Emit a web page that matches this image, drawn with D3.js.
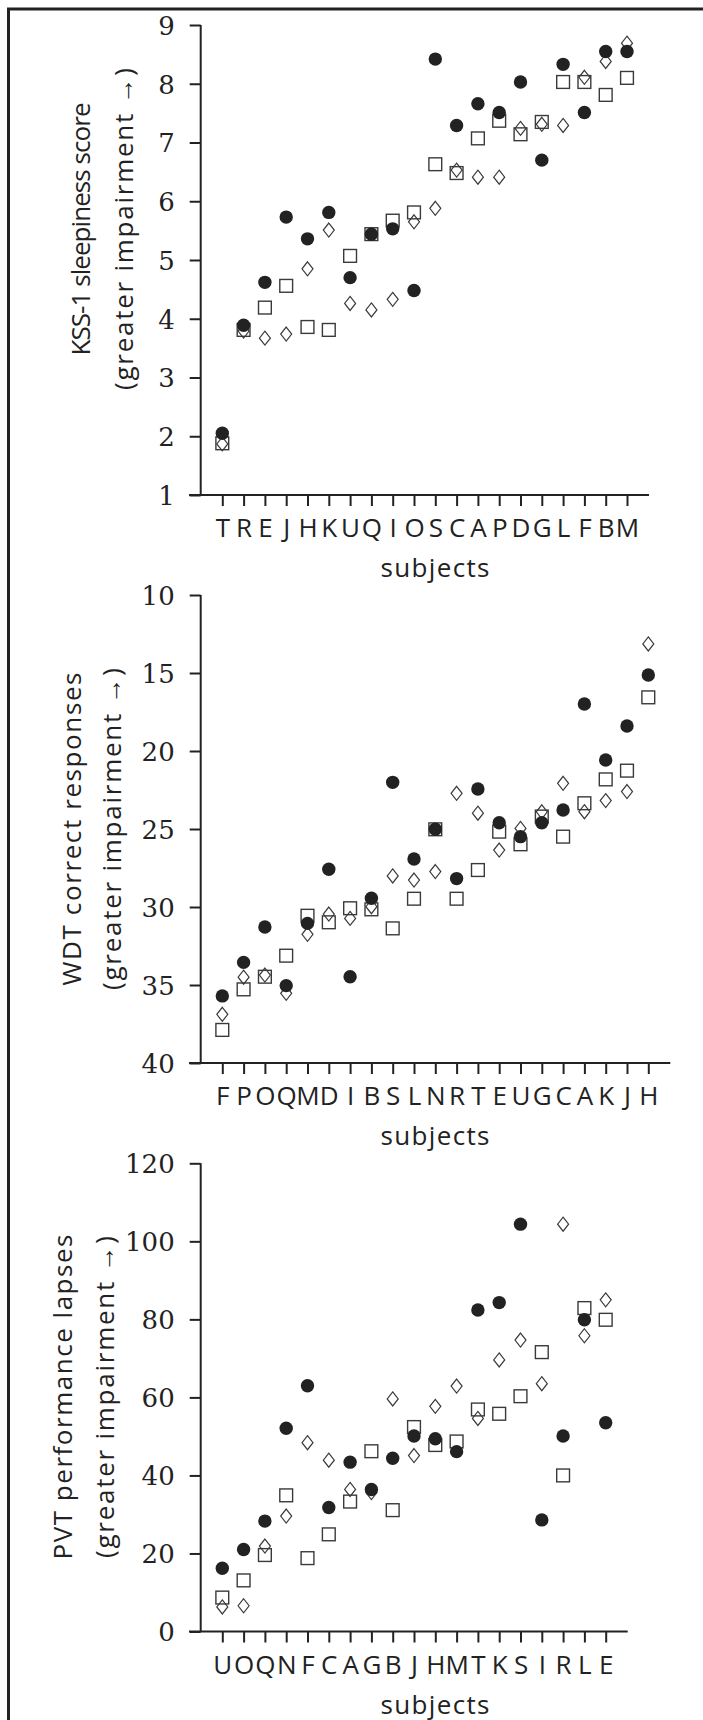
<!DOCTYPE html>
<html>
<head>
<meta charset="utf-8">
<script src="https://cdn.jsdelivr.net/npm/d3@7"></script>
<style>
  html, body { margin: 0; padding: 0; background: #fff; }
  svg { display: block; }
</style>
</head>
<body>
<svg id="chart" width="703" height="1720"></svg>
<script>
// ---------- DATA ----------
const kssSubjects = ["T","R","E","J","H","K","U","Q","I","O","S","C","A","P","D","G","L","F","B","M"];
const kssCircle  = [2.05,3.89,4.62,5.73,5.36,5.81,4.70,5.44,5.53,4.48,8.42,7.29,7.66,7.51,8.03,6.70,8.33,7.51,8.55,8.55];
const kssSquare  = [1.88,3.81,4.19,4.56,3.86,3.81,5.07,5.44,5.67,5.81,6.63,6.48,7.07,7.37,7.14,7.35,8.03,8.03,7.81,8.10];
const kssDiamond = [1.87,3.79,3.67,3.74,4.85,5.51,4.26,4.15,4.33,5.65,5.88,6.53,6.41,6.41,7.24,7.31,7.29,8.11,8.38,8.69];
const kssTicks = [1,2,3,4,5,6,7,8,9];

const wdtSubjects = ["F","P","O","Q","M","D","I","B","S","L","N","R","T","E","U","G","C","A","K","J","H"];
const wdtCircle  = [35.70,33.55,31.28,35.04,31.05,27.58,34.47,29.44,22.01,26.92,25.02,28.18,22.44,24.60,25.49,24.60,23.78,16.99,20.58,18.40,15.13];
const wdtSquare  = [37.88,35.28,34.47,33.12,30.56,30.98,30.08,30.15,31.37,29.47,25.02,29.47,27.63,25.17,25.98,24.20,25.49,23.35,21.82,21.26,16.56];
const wdtDiamond = [36.88,34.50,34.36,35.53,31.75,30.45,30.73,29.98,28.01,28.27,27.73,22.71,23.99,26.35,24.96,23.90,22.07,23.89,23.18,22.60,13.14];
const wdtTicks = [10,15,20,25,30,35,40];

const pvtSubjects = ["U","O","Q","N","F","C","A","G","B","J","H","M","T","K","S","I","R","L","E"];
const pvtCircle  = [16.2,21.0,28.3,52.1,63.0,31.8,43.4,36.4,44.4,50.1,49.4,46.1,82.4,84.3,104.4,28.6,50.1,79.9,53.5];
const pvtSquare  = [8.7,13.1,19.6,34.9,18.8,24.9,33.3,46.2,31.1,52.4,47.8,48.7,56.9,55.8,60.3,71.6,40.0,82.9,79.9];
const pvtDiamond = [6.3,6.6,21.9,29.6,48.4,43.9,36.4,35.6,59.6,45.1,57.7,62.9,54.6,69.6,74.7,63.5,104.4,75.8,85.0];
const pvtTicks = [0,20,40,60,80,100,120];

const xLabel = "subjects";
const titles = [
  ["KSS-1 sleepiness score", "(greater impairment \u2192)"],
  ["WDT correct responses", "(greater impairment \u2192)"],
  ["PVT performance lapses", "(greater impairment \u2192)"]
];

// ---------- LAYOUT ----------
const INK = "#222";
const svg = d3.select("#chart");
const axisX = 200.7, firstCat = 222.3, step = 21.3;

// frame
svg.append("path")
  .attr("d", "M8.5,1720V9H703")
  .attr("fill", "none").attr("stroke", INK).attr("stroke-width", 3);

const panels = [
  {subjects: kssSubjects, c: kssCircle, s: kssSquare, d: kssDiamond, ticks: kssTicks,
   domain: [1, 9], top: 25, bottom: 495, t1x: 90, t2x: 133, tcy: 229, len1: 253, title: titles[0]},
  {subjects: wdtSubjects, c: wdtCircle, s: wdtSquare, d: wdtDiamond, ticks: wdtTicks,
   domain: [40, 10], top: 595, bottom: 1063, t1x: 81, t2x: 121, tcy: 829, len1: 313, title: titles[1]},
  {subjects: pvtSubjects, c: pvtCircle, s: pvtSquare, d: pvtDiamond, ticks: pvtTicks,
   domain: [0, 120], top: 1163.3, bottom: 1631.5, t1x: 72, t2x: 114, tcy: 1397, len1: 325, title: titles[2]}
];

panels.forEach(p => {
  const n = p.subjects.length;
  const x = d3.scalePoint().domain(p.subjects)
    .range([firstCat, firstCat + (n - 1) * step]);
  const y = d3.scaleLinear().domain(p.domain).range([p.bottom, p.top]);
  const xEnd = firstCat + (n - 1) * step + 22;

  // y axis
  const gy = svg.append("g").attr("transform", `translate(${axisX},0)`)
    .call(d3.axisLeft(y).tickValues(p.ticks).tickSize(11).tickSizeOuter(0).tickPadding(15));
  gy.select(".domain").attr("d", `M0,${p.top}V${p.bottom}`);
  gy.selectAll("line, path").attr("stroke", INK).attr("stroke-width", 2);
  gy.selectAll("text").attr("font-family", "DejaVu Serif").attr("font-size", 26)
    .attr("fill", INK).attr("dy", "0.36em");

  // x axis
  const gx = svg.append("g").attr("transform", `translate(0,${p.bottom})`)
    .call(d3.axisBottom(x).tickSize(11).tickSizeOuter(0));
  gx.select(".domain").attr("d", `M${axisX - 11.7},0H${xEnd}`);
  gx.selectAll("line, path").attr("stroke", INK).attr("stroke-width", 2);
  gx.selectAll("text").attr("font-family", "Open Sans").attr("font-size", 26)
    .attr("fill", INK).attr("y", 42).attr("dy", 0);

  // x title
  svg.append("text").attr("x", 435).attr("y", p.bottom + 82)
    .attr("text-anchor", "middle").attr("font-family", "Open Sans").attr("font-size", 26)
    .attr("fill", INK).attr("textLength", 109).attr("lengthAdjust", "spacing").text(xLabel);

  // y title (two lines)
  const lens = [p.len1, 322];
  [p.t1x, p.t2x].forEach((tx, i) => {
    svg.append("text")
      .attr("transform", `translate(${tx},${p.tcy}) rotate(-90)`)
      .attr("text-anchor", "middle").attr("font-family", "Open Sans").attr("font-size", 26)
      .attr("fill", INK).attr("textLength", lens[i]).attr("lengthAdjust", "spacing")
      .text(p.title[i]);
  });

  const g = svg.append("g");
  // squares
  g.selectAll(".sq").data(p.subjects).join("rect")
    .attr("x", (d) => x(d) - 6.4).attr("y", (d, i) => y(p.s[i]) - 6.4)
    .attr("width", 12.8).attr("height", 12.8)
    .attr("fill", "none").attr("stroke", "#3a3a3a").attr("stroke-width", 1.4);
  // diamonds
  g.selectAll(".dm").data(p.subjects).join("path")
    .attr("d", (d, i) => {
      const cx = x(d), cy = y(p.d[i]);
      return `M${cx},${cy - 7}L${cx + 5.5},${cy}L${cx},${cy + 7}L${cx - 5.5},${cy}Z`;
    })
    .attr("fill", "none").attr("stroke", "#3a3a3a").attr("stroke-width", 1.2);
  // circles
  g.selectAll(".ci").data(p.subjects).join("circle")
    .attr("cx", (d) => x(d)).attr("cy", (d, i) => y(p.c[i])).attr("r", 6.7)
    .attr("fill", INK);
});
</script>
</body>
</html>
